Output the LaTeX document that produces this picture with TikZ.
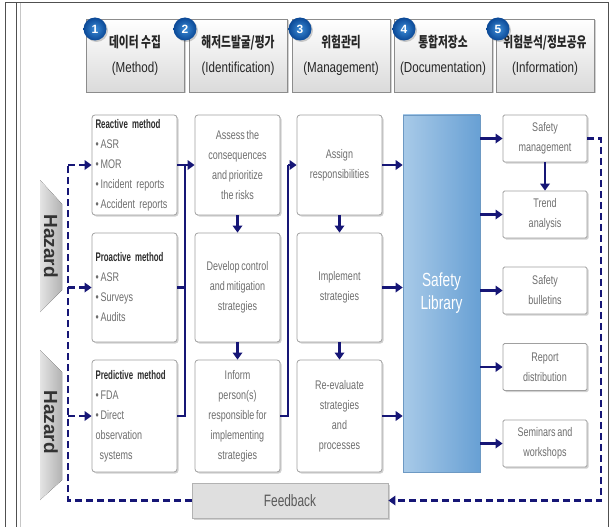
\documentclass[tikz,border=0pt]{standalone}
\usepackage{fontspec}
\setmainfont{Liberation Sans}[FakeStretch=0.72,WordSpace=0.75]
\newfontfamily\hdfont{Liberation Sans}[FakeStretch=0.8]
\newfontfamily\ttlfont{Liberation Sans}[FakeStretch=0.63,WordSpace=0.7]
\newfontfamily\krfont{Noto Sans CJK KR}[FakeStretch=0.74]
\newfontfamily\plainsans{Liberation Sans}
\usetikzlibrary{arrows.meta,shadows}
\definecolor{linenavy}{RGB}{22,22,118}
\definecolor{boxc}{RGB}{160,160,160}
\definecolor{txtc}{RGB}{110,110,110}
\definecolor{titlec}{RGB}{45,45,45}
\definecolor{hdrbot}{RGB}{218,218,218}
\definecolor{hdrborder}{RGB}{140,140,140}
\definecolor{libl}{RGB}{168,202,232}
\definecolor{libr}{RGB}{104,160,212}
\definecolor{hzl}{RGB}{228,228,228}
\definecolor{hzr}{RGB}{178,178,178}
\definecolor{framec}{RGB}{80,80,80}
\definecolor{circin}{RGB}{60,140,215}
\definecolor{circout}{RGB}{10,72,150}
\tikzset{
  shad/.style={drop shadow={shadow xshift=1.5pt,shadow yshift=-1.5pt,fill=black,opacity=0.18}},
  hdr/.style={draw=hdrborder,line width=0.8pt,top color=white,bottom color=hdrbot,
    minimum width=98pt,minimum height=73pt,inner sep=0pt,align=center,text=black!85,
    font=\fontsize{14.5}{25}\selectfont,shad},
  numc/.style={circle,minimum size=23pt,inner sep=0pt,inner color=circin,outer color=circout,
    text=white,font=\plainsans\bfseries\fontsize{12}{12}\selectfont,shad},
  mbox/.style={draw=boxc,line width=0.8pt,rounded corners=3pt,fill=white,text width=78pt,
    inner xsep=3.5pt,inner ysep=0pt,align=left,text=txtc,
    font=\fontsize{12.5}{20}\selectfont,shad},
  cbox/.style={draw=boxc,line width=0.8pt,rounded corners=3pt,fill=white,minimum width=85pt,
    inner sep=0pt,align=center,text=txtc,font=\fontsize{12.5}{20}\selectfont,shad},
  obox/.style={draw=boxc,line width=0.8pt,rounded corners=1.5pt,fill=white,minimum width=84pt,
    minimum height=47pt,inner sep=0pt,align=center,text=txtc,font=\fontsize{12.5}{20}\selectfont,shad},
  libbox/.style={draw=libr!80!gray,line width=0.6pt,left color=libl,right color=libr,
    minimum width=77pt,minimum height=357pt,inner sep=0pt,align=center,text=white,
    font=\fontsize{19}{23}\selectfont},
  fbbox/.style={draw=gray!60,line width=0.8pt,fill=gray!25,minimum width=196pt,minimum height=35pt,
    inner sep=0pt,text=black!65,font=\fontsize{16.5}{16}\selectfont,shad},
  hz/.style={rotate=-90,inner sep=0pt,text=black!80,font=\plainsans\bfseries\fontsize{19}{19}\selectfont},
  ln/.style={draw=linenavy,line width=2.5pt},
  arr/.style={ln,-{Triangle[length=7pt,width=9.5pt]}},
  dsh/.style={draw=linenavy,line width=2.4pt,dash pattern=on 7pt off 4pt},
  dsharr/.style={dsh,-{Triangle[length=7pt,width=9.5pt]}}
}
\begin{document}
\begin{tikzpicture}[x=1pt,y=-1pt]
\useasboundingbox (0,0) rectangle (611,527);
% frame
\draw[framec,line width=1pt] (5,527) -- (5,3) -- (608,3) -- (608,527);
\draw[framec,line width=1pt] (16,3) -- (16,527);
\draw[gray!45,line width=0.6pt] (20,3) -- (20,527);

% header boxes
\node[hdr] (h1) at (135,55.5) {{\krfont\bfseries 데이터 수집}\\{\hdfont (Method)}};
\node[hdr] (h2) at (238,55.5) {{\krfont\bfseries 해저드발굴/평가}\\{\hdfont (Identification)}};
\node[hdr] (h3) at (341,55.5) {{\krfont\bfseries 위험관리}\\{\hdfont (Management)}};
\node[hdr] (h4) at (443,55.5) {{\krfont\bfseries 통합저장소}\\{\hdfont (Documentation)}};
\node[hdr] (h5) at (545,55.5) {{\krfont\bfseries 위험분석/정보공유}\\{\hdfont (Information)}};
\node[numc] (n1) at (95,29) {1};
\node[numc] (n2) at (185,29) {2};
\node[numc] (n3) at (300,29) {3};
\node[numc] (n4) at (404,29) {4};
\node[numc] (n5) at (498,29) {5};

% hazards
\fill[left color=hzl,right color=hzr] (40,180) -- (62,204) -- (62,290) -- (40,312) -- cycle;
\node[hz] (hz1) at (51,246) {Hazard};
\fill[left color=hzl,right color=hzr] (40,350) -- (62,372) -- (62,480) -- (40,500) -- cycle;
\node[hz] (hz2) at (51,422) {Hazard};

% method column
\node[mbox,minimum height=100pt] (reac) at (134.5,165)
  {{\ttlfont\bfseries\color{titlec}Reactive method}\\•\,ASR\\•\,MOR\\•\,Incident reports\\•\,Accident reports};
\node[mbox,minimum height=109pt] (pro) at (134.5,287.5)
  {{\ttlfont\bfseries\color{titlec}Proactive method}\\•\,ASR\\•\,Surveys\\•\,Audits};
\node[mbox,minimum height=112pt] (pred) at (134.5,416)
  {{\ttlfont\bfseries\color{titlec}Predictive method}\\•\,FDA\\•\,Direct\\observation\\\ systems};

% identification column
\node[cbox,minimum height=100pt] (assess) at (237.5,165) {Assess the\\consequences\\and prioritize\\the risks};
\node[cbox,minimum height=109pt] (develop) at (237.5,287.5) {Develop control\\and mitigation\\strategies};
\node[cbox,minimum height=112pt] (inform) at (237.5,416) {Inform\\person(s)\\responsible for\\implementing\\strategies};

% management column
\node[cbox,minimum height=100pt] (assign) at (339.5,165) {Assign\\responsibilities};
\node[cbox,minimum height=109pt] (implement) at (339.5,287.5) {Implement\\strategies};
\node[cbox,minimum height=112pt] (reeval) at (339.5,416) {Re-evaluate\\strategies\\and\\processes};

% library
\node[libbox] (lib) at (441.5,293.5) {Safety\\Library};

% information column
\node[obox] (sm) at (545,138.5) {Safety\\management};
\node[obox] (ta) at (545,214.5) {Trend\\analysis};
\node[obox] (sb) at (545,290.5) {Safety\\bulletins};
\node[obox] (rd) at (545,367) {Report\\distribution};
\node[obox] (sw) at (545,443.5) {Seminars and\\workshops};

% feedback
\node[fbbox] (fb) at (290,500.5) {Feedback};

% connectors
\coordinate (b1) at (185,165);
\coordinate (b2) at (288,165);
\draw[arr] (reac.east) -- (assess.west);
\draw[ln] (pro.east) -- (pro.east -| b1);
\draw[ln] (pred.east) -| (b1);
\draw[arr] (assess) -- (develop);
\draw[arr] (develop) -- (inform);
\draw[ln] (inform.east) -| (b2);
\draw[arr] (b2) -- (assign.west);
\draw[arr] (assign) -- (implement);
\draw[arr] (implement) -- (reeval);
\draw[arr] (assign.east) -- (assign.east -| lib.west);
\draw[arr] (implement.east) -- (implement.east -| lib.west);
\draw[arr] (reeval.east) -- (reeval.east -| lib.west);
\draw[arr] (lib.east |- sm) -- (sm.west);
\draw[arr] (lib.east |- ta) -- (ta.west);
\draw[arr] (lib.east |- sb) -- (sb.west);
\draw[arr] (lib.east |- rd) -- (rd.west);
\draw[arr] (lib.east |- sw) -- (sw.west);
\draw[arr] (sm) -- (ta);

% feedback loop
\coordinate (dl1) at (68,165);
\coordinate (dl2) at (68,287.5);
\coordinate (dl3) at (68,416);
\coordinate (dlb) at (68,500.5);
\coordinate (dr1) at (601,138.5);
\coordinate (dr2) at (601,500.5);
\draw[dsh] (fb.west) -- (dlb) -- (dl1);
\draw[dsharr] (dl1) -- (reac.west);
\draw[dsharr] (dl2) -- (pro.west);
\draw[dsharr] (dl3) -- (pred.west);
\draw[dsharr] (sm.east) -- (dr1) -- (dr2) -- (fb.east);
\end{tikzpicture}
\end{document}
